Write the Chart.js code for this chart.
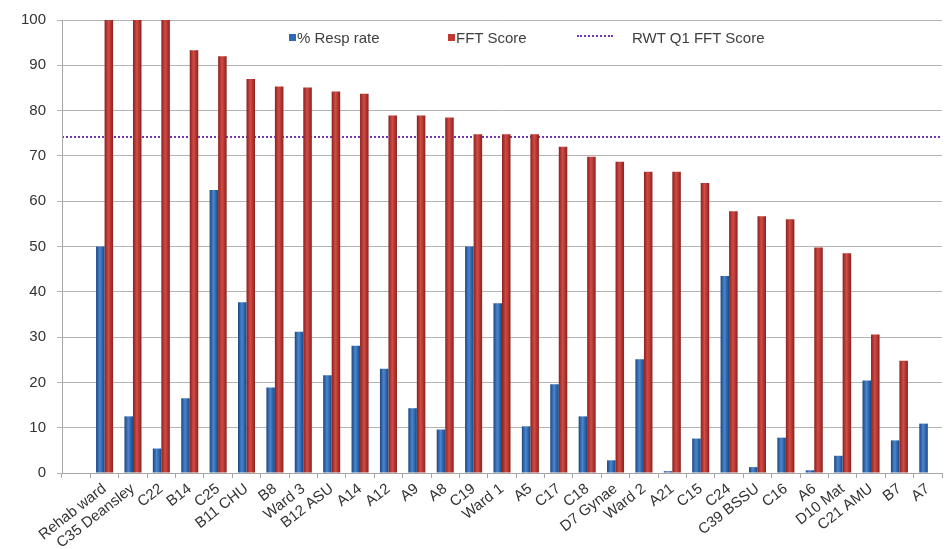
<!DOCTYPE html>
<html><head><meta charset="utf-8">
<script src="https://cdn.jsdelivr.net/npm/chart.js@4/dist/chart.umd.min.js"></script>
<style>
html,body{margin:0;padding:0;background:#fff;}
#wrap{position:relative;width:952px;height:549px;overflow:hidden;}
canvas{display:block;}
.lg{position:absolute;font:15px "Liberation Sans",Arial,sans-serif;color:#404040;white-space:nowrap;line-height:16px;}
.sq{position:absolute;width:7px;height:7px;}
.dl{position:absolute;width:36px;height:0;border-top:2px dotted #7636b4;}
</style></head><body>
<div id="wrap"><canvas id="c" width="952" height="549"></canvas><div id="legend"></div></div>
<script>
const categories = ["", "Rehab ward","C35 Deansley","C22","B14","C25","B11 CHU","B8","Ward 3","B12 ASU","A14","A12","A9","A8","C19","Ward 1","A5","C17","C18","D7 Gynae","Ward 2","A21","C15","C24","C39 BSSU","C16","A6","D10 Mat","C21 AMU","B7","A7"];
const respRate = [null, 50, 12.5, 5.4, 16.5, 62.5, 37.7, 18.9, 31.2, 21.6, 28.1, 23.0, 14.3, 9.6, 50, 37.5, 10.3, 19.6, 12.5, 2.8, 25.1, 0.4, 7.6, 43.5, 1.3, 7.8, 0.6, 3.8, 20.4, 7.2, 10.9];
const fftScore = [null, 100, 100, 100, 93.3, 92.0, 87.0, 85.3, 85.1, 84.2, 83.7, 78.9, 78.9, 78.5, 74.8, 74.8, 74.8, 72.0, 69.8, 68.7, 66.5, 66.5, 64.0, 57.8, 56.7, 56.0, 49.8, 48.5, 30.6, 24.8, null];
const rwtQ1Score = 74.2;
const seriesNames = ["% Resp rate", "FFT Score", "RWT Q1 FFT Score"];
const yMin = 0, yMax = 100, yStep = 10;

const FONT = '"Liberation Sans", Arial, sans-serif';

// Legend overlay (placed inside the plot area as in the reference)
(function(){
  const lg = document.getElementById('legend');
  const items = [
    {kind:'sq', color:'#2f6bb5', sx:289, sy:34, tx:297},
    {kind:'sq', color:'#c0392f', sx:448, sy:34, tx:456},
    {kind:'dl', sx:577, sy:35, tx:632}
  ];
  items.forEach((it, i) => {
    const m = document.createElement('div');
    m.className = it.kind;
    m.style.left = it.sx + 'px'; m.style.top = it.sy + 'px';
    if (it.kind === 'sq') m.style.background = it.color;
    lg.appendChild(m);
    const t = document.createElement('div');
    t.className = 'lg';
    t.textContent = seriesNames[i];
    t.style.left = it.tx + 'px'; t.style.top = '30px';
    lg.appendChild(t);
  });
})();

// Cylinder-like horizontal shading of the bars
const barShade = {
  id: 'barShade',
  beforeDatasetsDraw(chart) {
    const ctx = chart.ctx;
    const sets = [[0, ['#1b4680', '#4a86d0', '#1b4680']], [1, ['#8a211e', '#d44b44', '#8a211e']]];
    sets.forEach(([di, cols]) => {
      chart.getDatasetMeta(di).data.forEach(el => {
        if (!el || !isFinite(el.x) || !isFinite(el.width)) return;
        const l = el.x - el.width / 2;
        const g = ctx.createLinearGradient(l, 0, l + el.width, 0);
        g.addColorStop(0, cols[0]); g.addColorStop(0.45, cols[1]); g.addColorStop(1, cols[2]);
        el.options = Object.assign({}, el.options, {backgroundColor: g});
      });
    });
  }
};

new Chart(document.getElementById('c'), {
  type: 'bar',
  data: {
    labels: categories,
    datasets: [
      {label: seriesNames[0], data: respRate, backgroundColor: '#2f6bb5', categoryPercentage: 0.6, barPercentage: 1.0},
      {label: seriesNames[1], data: fftScore, backgroundColor: '#c0392f', categoryPercentage: 0.6, barPercentage: 1.0}
    ]
  },
  options: {
    responsive: false,
    animation: false,
    layout: {padding: {top: 13, right: 10, left: 0, bottom: 0}},
    plugins: {legend: {display: false}, tooltip: {enabled: false}},
    scales: {
      x: {
        offset: true,
        grid: {display: true, drawOnChartArea: false, drawTicks: true, tickLength: 5, color: '#a6a6a6', offset: true},
        border: {display: true, color: '#a6a6a6', width: 1},
        ticks: {autoSkip: false, minRotation: 38, maxRotation: 38, padding: 2, color: '#333333', font: {family: FONT, size: 15}},
        afterFit: s => { s.height = 76; }
      },
      y: {
        min: yMin, max: yMax,
        ticks: {stepSize: yStep, padding: 11, color: '#333333', font: {family: FONT, size: 15}},
        grid: {color: '#b4b4b4', tickLength: 5, drawTicks: true},
        border: {color: '#a6a6a6'},
        afterFit: s => { s.width = 62; }
      },
      // reference line "RWT Q1 FFT Score": a single dotted grid line on a companion value axis
      yRef: {
        type: 'linear', axis: 'y', position: 'left', min: yMin, max: yMax, z: 1,
        afterBuildTicks: s => { s.ticks = [{value: rwtQ1Score}]; },
        ticks: {display: false},
        grid: {color: '#7636b4', lineWidth: 2, drawTicks: false, drawOnChartArea: true},
        border: {display: false, dash: [2, 2]},
        afterFit: s => { s.width = 0; }
      }
    }
  },
  plugins: [barShade]
});
</script>
</body></html>
